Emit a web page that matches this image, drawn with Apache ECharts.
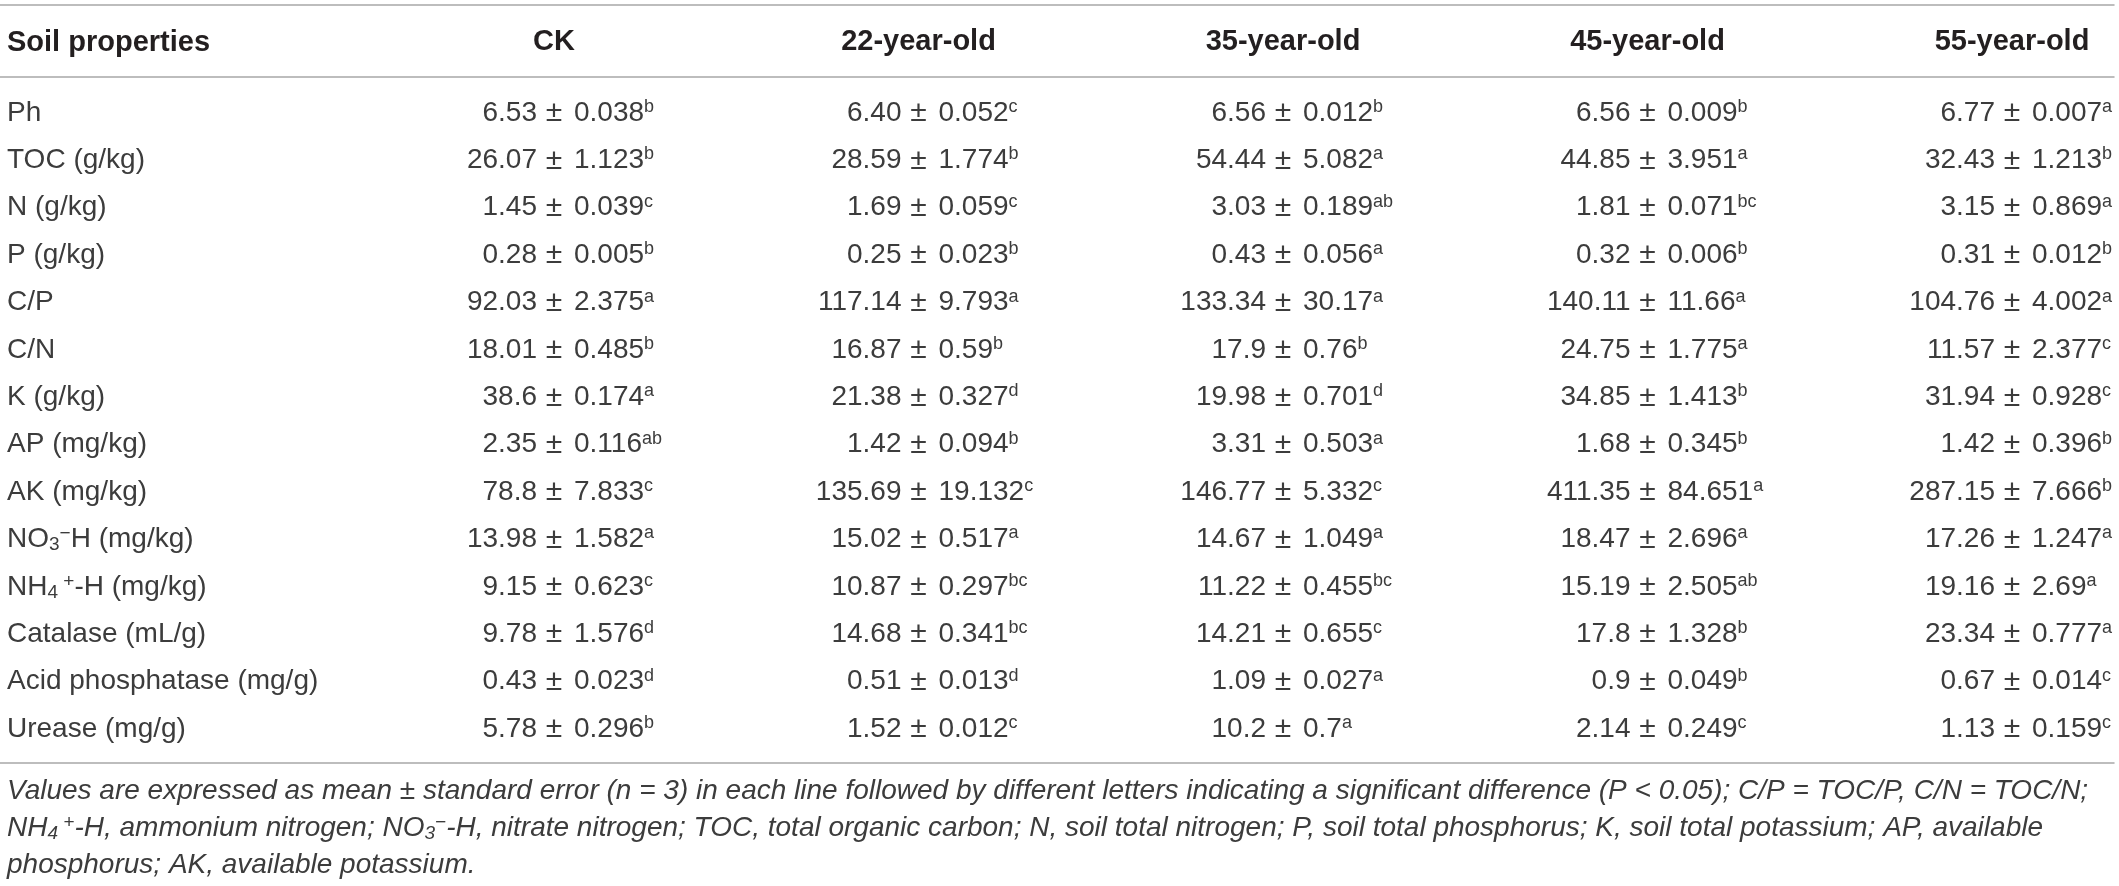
<!DOCTYPE html>
<html lang="en">
<head>
    <meta charset="UTF-8">
    <title>Soil properties</title>
    <style>
        html, body{
            margin: 0;
            padding: 0;
            background-color: #fff;
        }
        #main{
            width: 2119px;
            height: 886px;
        }
    </style>
    <script src="https://cdn.jsdelivr.net/npm/echarts@6/dist/echarts.min.js"></script>
</head>
<body>
<div id="main"></div>
<script type="text/javascript">
    // rows and columns of the table
    var rowHeader = 'Soil properties';
    var properties = ['Ph', 'TOC (g/kg)', 'N (g/kg)', 'P (g/kg)', 'C/P', 'C/N', 'K (g/kg)', 'AP (mg/kg)', 'AK (mg/kg)',
        'NO{sub|3}{sup|\u2212}H (mg/kg)', 'NH{sub|4}{sup| +}-H (mg/kg)', 'Catalase (mL/g)', 'Acid phosphatase (mg/g)', 'Urease (mg/g)'];
    var groups = ['CK', '22-year-old', '35-year-old', '45-year-old', '55-year-old'];

    // mean, standard error, significance letters (kept as text so "6.40" stays "6.40")
    var meanCK = ['6.53', '26.07', '1.45', '0.28', '92.03', '18.01', '38.6', '2.35', '78.8', '13.98', '9.15', '9.78', '0.43', '5.78'];
    var seCK   = ['0.038', '1.123', '0.039', '0.005', '2.375', '0.485', '0.174', '0.116', '7.833', '1.582', '0.623', '1.576', '0.023', '0.296'];
    var sigCK  = ['b', 'b', 'c', 'b', 'a', 'b', 'a', 'ab', 'c', 'a', 'c', 'd', 'd', 'b'];

    var mean22 = ['6.40', '28.59', '1.69', '0.25', '117.14', '16.87', '21.38', '1.42', '135.69', '15.02', '10.87', '14.68', '0.51', '1.52'];
    var se22   = ['0.052', '1.774', '0.059', '0.023', '9.793', '0.59', '0.327', '0.094', '19.132', '0.517', '0.297', '0.341', '0.013', '0.012'];
    var sig22  = ['c', 'b', 'c', 'b', 'a', 'b', 'd', 'b', 'c', 'a', 'bc', 'bc', 'd', 'c'];

    var mean35 = ['6.56', '54.44', '3.03', '0.43', '133.34', '17.9', '19.98', '3.31', '146.77', '14.67', '11.22', '14.21', '1.09', '10.2'];
    var se35   = ['0.012', '5.082', '0.189', '0.056', '30.17', '0.76', '0.701', '0.503', '5.332', '1.049', '0.455', '0.655', '0.027', '0.7'];
    var sig35  = ['b', 'a', 'ab', 'a', 'a', 'b', 'd', 'a', 'c', 'a', 'bc', 'c', 'a', 'a'];

    var mean45 = ['6.56', '44.85', '1.81', '0.32', '140.11', '24.75', '34.85', '1.68', '411.35', '18.47', '15.19', '17.8', '0.9', '2.14'];
    var se45   = ['0.009', '3.951', '0.071', '0.006', '11.66', '1.775', '1.413', '0.345', '84.651', '2.696', '2.505', '1.328', '0.049', '0.249'];
    var sig45  = ['b', 'a', 'bc', 'b', 'a', 'a', 'b', 'b', 'a', 'a', 'ab', 'b', 'b', 'c'];

    var mean55 = ['6.77', '32.43', '3.15', '0.31', '104.76', '11.57', '31.94', '1.42', '287.15', '17.26', '19.16', '23.34', '0.67', '1.13'];
    var se55   = ['0.007', '1.213', '0.869', '0.012', '4.002', '2.377', '0.928', '0.396', '7.666', '1.247', '2.69', '0.777', '0.014', '0.159'];
    var sig55  = ['a', 'b', 'a', 'b', 'a', 'c', 'c', 'b', 'b', 'a', 'a', 'a', 'c', 'c'];

    var footnotes = [
        'Values are expressed as mean \u00b1 standard error (n = 3) in each line followed by different letters indicating a significant difference (P < 0.05); C/P = TOC/P, C/N = TOC/N;',
        'NH{sub|4}{sup| +}-H, ammonium nitrogen; NO{sub|3}{sup|\u2212}-H, nitrate nitrogen; TOC, total organic carbon; N, soil total nitrogen; P, soil total phosphorus; K, soil total potassium; AP, available',
        'phosphorus; AK, available potassium.'
    ];

    var FONT = '"Liberation Sans", Arial, Helvetica, sans-serif';
    var TEXT = '#3c3c3c';
    var HEAD = '#231f20';
    var RULE = '#a8a8a8';

    var columns = [
        [meanCK, seCK, sigCK],
        [mean22, se22, sig22],
        [mean35, se35, sig35],
        [mean45, se45, sig45],
        [mean55, se55, sig55]
    ];

    // one data item per cell: [column index, row index]
    var cells = [];
    for (var c = 0; c < groups.length; c++) {
        for (var r = 0; r < properties.length; r++) {
            cells.push([c, r]);
        }
    }

    var subSup = {
        sub: {fontSize: 19, fontFamily: FONT, fill: TEXT, color: TEXT, lineHeight: 8, verticalAlign: 'bottom'},
        sup: {fontSize: 19, fontFamily: FONT, fill: TEXT, color: TEXT, lineHeight: 12, verticalAlign: 'top'}
    };

    function cellText(text, x, y, align, size, rich) {
        return {
            type: 'text',
            x: x,
            y: y,
            style: {
                text: text,
                align: align,
                verticalAlign: 'middle',
                fontSize: size,
                fontFamily: FONT,
                lineHeight: 30,
                fill: TEXT,
                rich: rich
            }
        };
    }

    function renderCell(params, api) {
        var col = api.value(0), row = api.value(1);
        var p = api.coord([col, row]);
        var d = columns[col];
        // each cell is lined up on its ± sign
        return {
            type: 'group',
            children: [
                cellText(d[0][row], p[0] - 17, p[1], 'right', 28),
                cellText('\u00b1', p[0], p[1], 'center', 30),
                cellText(d[1][row] + '{s|' + d[2][row] + '}', p[0] + 20, p[1], 'left', 28, {
                    s: {fontSize: 18, fontFamily: FONT, fill: TEXT, lineHeight: 16, verticalAlign: 'top'}
                })
            ]
        };
    }

    var ruleAxis = {
        gridIndex: 0,
        type: 'category',
        data: [''],
        axisLine: {onZero: false, lineStyle: {color: RULE, width: 1.5}},
        axisTick: {show: false},
        axisLabel: {show: false},
        splitLine: {show: false}
    };

    var footTitles = footnotes.map(function (t, i) {
        return {
            text: t,
            left: 7,
            top: 776 + i * 37,
            padding: 0,
            textStyle: {
                fontSize: 28,
                fontStyle: 'italic',
                fontWeight: 'normal',
                fontFamily: FONT,
                color: TEXT,
                lineHeight: 30,
                rich: {
                    sub: {fontSize: 19, fontStyle: 'italic', fontFamily: FONT, color: TEXT, lineHeight: 8, verticalAlign: 'bottom'},
                    sup: {fontSize: 19, fontStyle: 'italic', fontFamily: FONT, color: TEXT, lineHeight: 12, verticalAlign: 'top'}
                }
            }
        };
    });

    var myChart = echarts.init(document.getElementById('main'));

    var option = {
        backgroundColor: '#fff',
        animation: false,
        title: [{
            text: rowHeader,
            left: 7,
            top: 28,
            padding: 0,
            textStyle: {fontSize: 29, fontWeight: 'bold', fontFamily: FONT, color: HEAD, lineHeight: 30}
        }].concat(footTitles),
        grid: [
            // frame for the three rules
            {left: 0, right: 5, top: 5, bottom: 123},
            // table body
            {left: 554, right: 107, top: 113, bottom: 157}
        ],
        xAxis: [
            echarts.util.merge({position: 'top'}, ruleAxis),
            echarts.util.merge({position: 'bottom'}, ruleAxis),
            echarts.util.merge({position: 'top', offset: -72}, ruleAxis),
            {
                gridIndex: 1,
                type: 'category',
                data: groups,
                boundaryGap: false,
                position: 'top',
                offset: 36,
                axisLine: {show: false},
                axisTick: {show: false},
                splitLine: {show: false},
                axisLabel: {
                    interval: 0,
                    margin: 35,
                    verticalAlign: 'middle',
                    fontSize: 29,
                    fontWeight: 'bold',
                    fontFamily: FONT,
                    color: HEAD
                }
            }
        ],
        yAxis: [
            {gridIndex: 0, type: 'category', data: [''], show: false},
            {
                gridIndex: 1,
                type: 'category',
                data: properties,
                inverse: true,
                boundaryGap: false,
                axisLine: {show: false},
                axisTick: {show: false},
                splitLine: {show: false},
                axisLabel: {
                    interval: 0,
                    align: 'left',
                    margin: 547,
                    fontSize: 28,
                    fontFamily: FONT,
                    color: TEXT,
                    lineHeight: 30,
                    rich: subSup
                }
            }
        ],
        series: [{
            type: 'custom',
            xAxisIndex: 3,
            yAxisIndex: 1,
            data: cells,
            renderItem: renderCell
        }]
    };

    myChart.setOption(option);
</script>
</body>
</html>
